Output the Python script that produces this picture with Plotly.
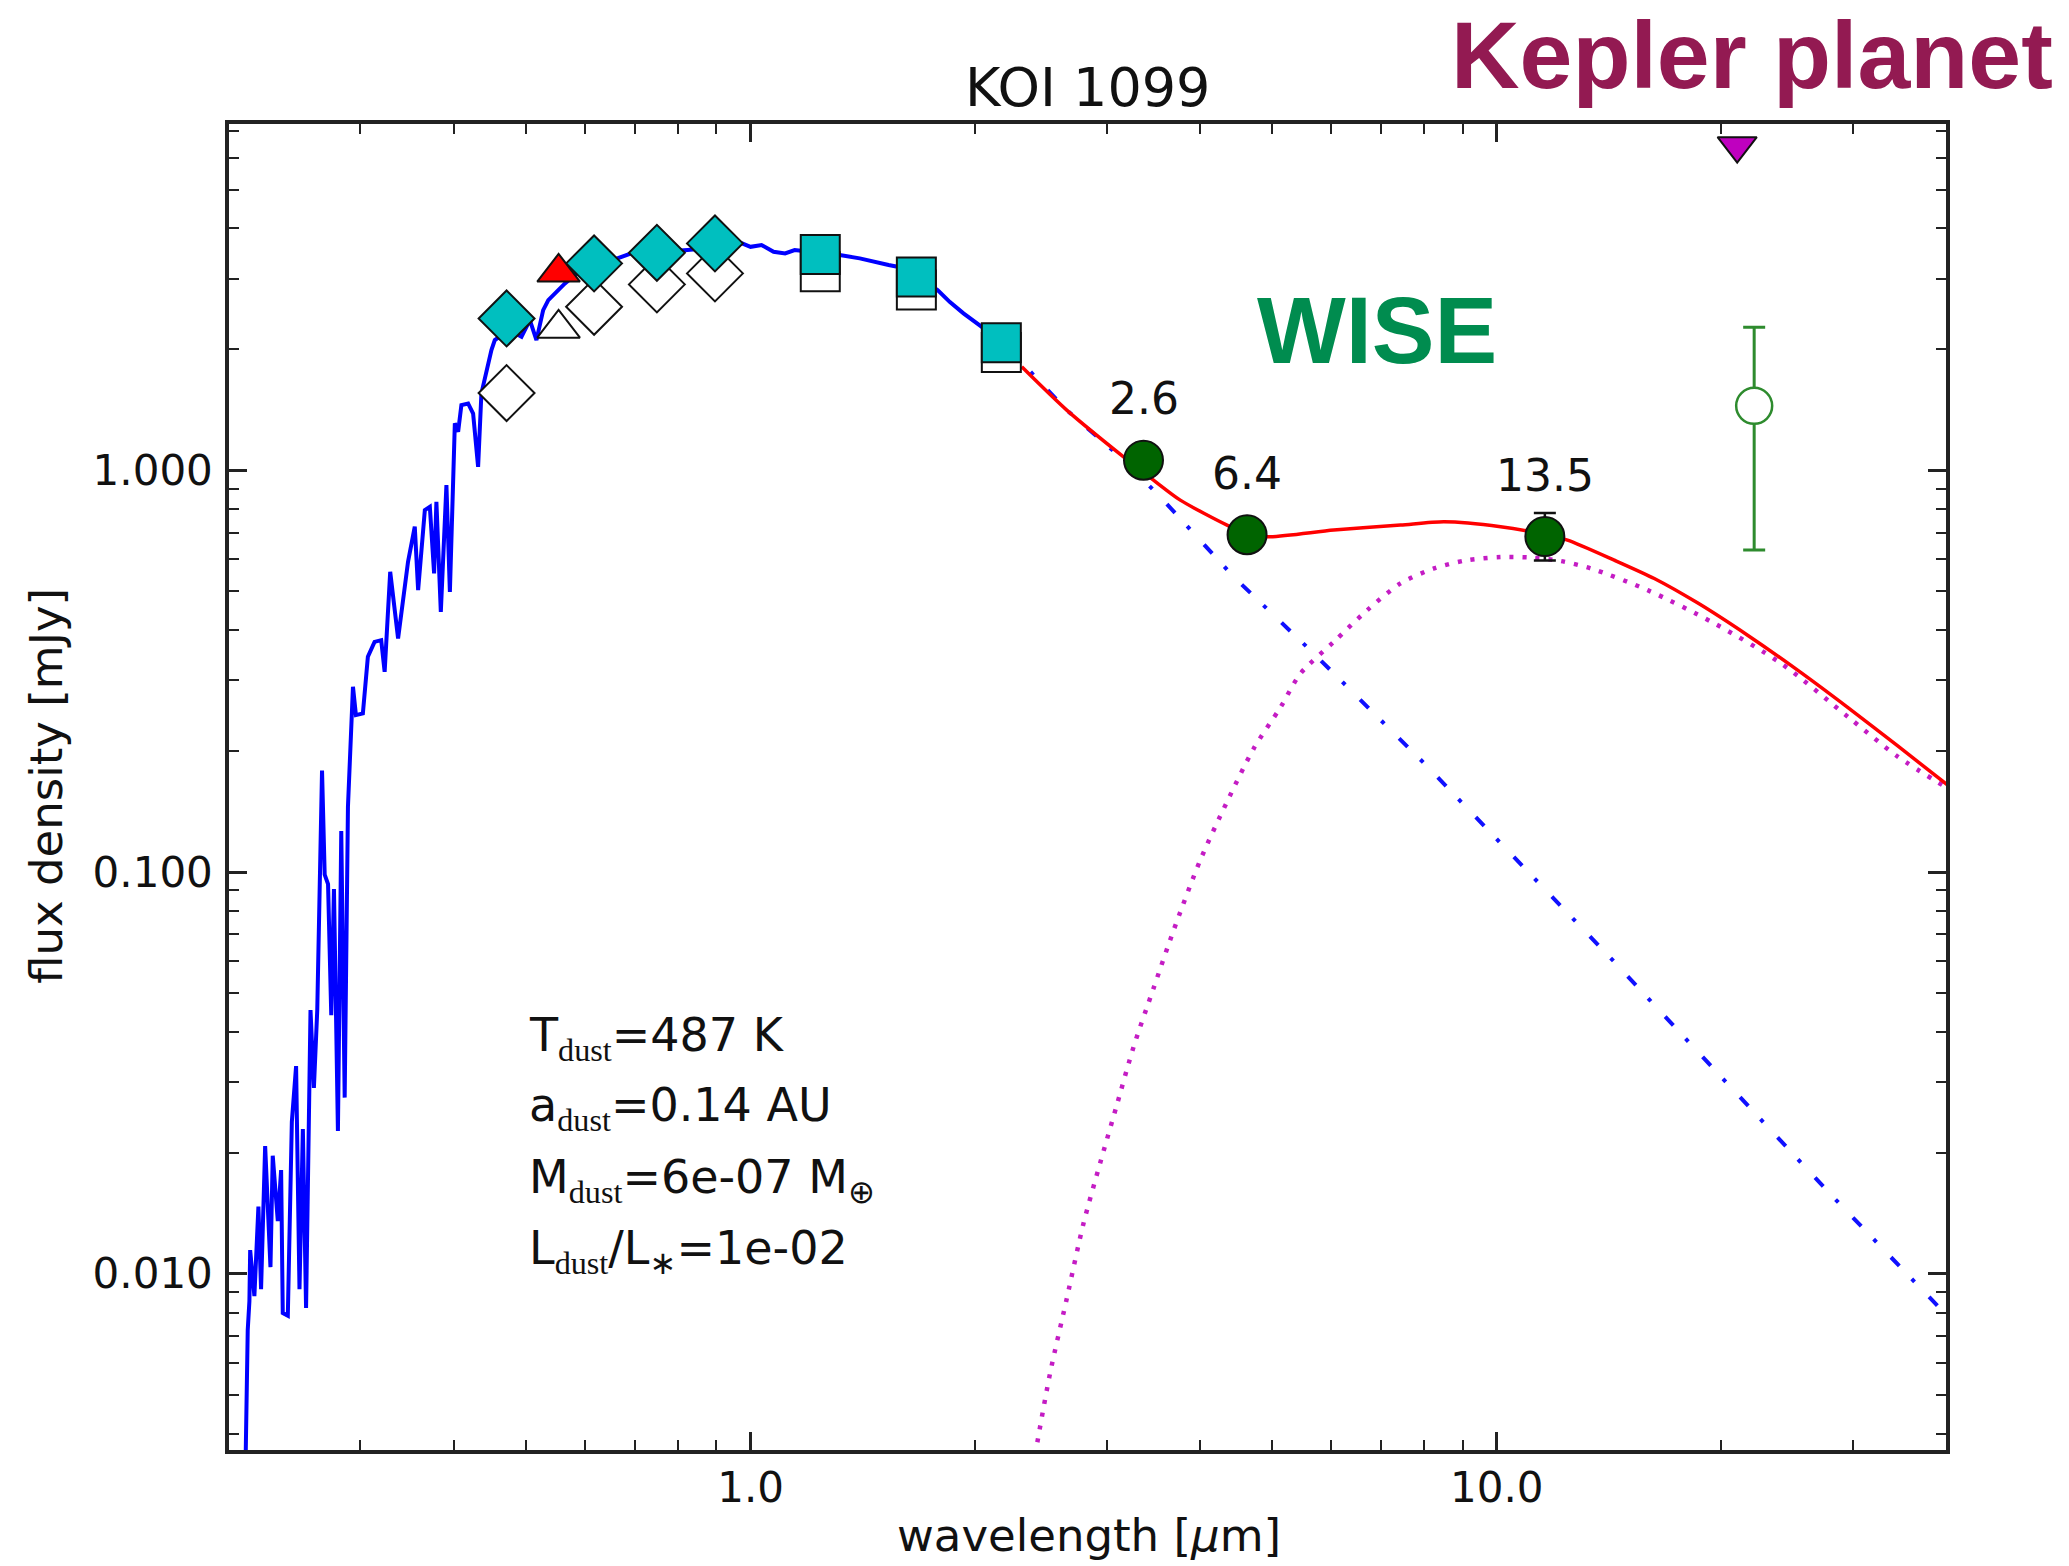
import math
import plotly.graph_objects as go

# ---- stellar spectrum (wavelength in micron, flux density in mJy) ----
spec_wl = [
    0.2105, 0.2119, 0.2130, 0.2135, 0.2163, 0.2190, 0.2208, 0.2236, 0.2273, 0.2289,
    0.2325, 0.2349, 0.2361, 0.2398, 0.2428, 0.2460, 0.2486, 0.2512, 0.2537, 0.2572,
    0.2599, 0.2626, 0.2665, 0.2687, 0.2715, 0.2742, 0.2765, 0.2799, 0.2828, 0.2858,
    0.2887, 0.2923, 0.2932, 0.2959, 0.3023, 0.3070, 0.3134, 0.3199, 0.3233, 0.3289,
    0.3370, 0.3475, 0.3548, 0.3585, 0.3660, 0.3717, 0.3766, 0.3793, 0.3845, 0.3912,
    0.3954, 0.4015, 0.4056, 0.4097, 0.4183, 0.4248, 0.4314, 0.4358, 0.4495, 0.4542,
    0.4748, 0.4932, 0.5061, 0.5165, 0.5273, 0.5357, 0.5524, 0.5640, 0.5874, 0.6079,
    0.6271, 0.6535, 0.7016, 0.7549, 0.8231, 0.9087, 0.9741, 1.0000, 1.0346, 1.0736,
    1.1125, 1.1458, 1.3166, 1.4007, 1.5310, 1.5730, 1.6350, 1.7810, 1.8500, 1.9290,
    2.0410, 2.2270,
]
spec_flux = [
    0.0034, 0.007238, 0.008545, 0.01145, 0.008794, 0.01469, 0.009155, 0.02078, 0.01038, 0.01966,
    0.01352, 0.01811, 0.00798, 0.007861, 0.02388, 0.03287, 0.009155, 0.02291, 0.008211, 0.04532,
    0.02901, 0.04532, 0.1790, 0.09852, 0.09330, 0.04403, 0.09066, 0.02265, 0.1265, 0.02744,
    0.1454, 0.2465, 0.2891, 0.2458, 0.2482, 0.3434, 0.3741, 0.3777, 0.3150, 0.5590,
    0.3815, 0.5919, 0.7237, 0.5031, 0.7961, 0.8114, 0.5539, 0.8347, 0.4444, 0.9187,
    0.4982, 1.309, 1.247, 1.453, 1.467, 1.385, 1.020, 1.554, 1.992, 2.109,
    2.234, 2.149, 2.365, 2.109, 2.505, 2.653, 2.810, 2.920, 3.114, 3.187,
    3.150, 3.338, 3.500, 3.494, 3.534, 3.594, 3.672, 3.600, 3.636, 3.500,
    3.467, 3.534, 3.434, 3.370, 3.243, 3.212, 3.114, 2.810, 2.623, 2.459,
    2.276, 1.992,
]

# ---- photosphere extrapolation into the infrared ----
rj_wl = [2.227, 2.653, 3.129, 3.540, 4.440, 5.685, 7.989, 10.12, 14.30, 19.98, 28.08, 40.18]
rj_flux = [1.992, 1.412, 1.080, 0.8592, 0.5430, 0.3500, 0.1867, 0.1180, 0.06034, 0.03092, 0.01569, 0.007843]

# ---- warm dust blackbody ----
dust_wl = [2.406, 2.519, 2.653, 2.793, 2.941, 3.097, 3.261, 3.467, 3.689, 4.006,
           4.350, 4.724, 5.130, 5.458, 6.047, 6.706, 7.431, 8.236, 9.135, 10.12,
           11.11, 12.19, 13.37, 15.93, 19.57, 24.05, 29.56, 34.50, 40.18]
dust_flux = [0.003535, 0.005631, 0.008664, 0.01332, 0.01885, 0.02633, 0.03673, 0.05129, 0.07155, 0.1071,
             0.1495, 0.2029, 0.2569, 0.3121, 0.3741, 0.4487, 0.5230, 0.5697, 0.5976, 0.6081,
             0.6064, 0.5943, 0.5697, 0.5031, 0.4158, 0.3306, 0.2434, 0.1935, 0.1618]

# ---- star + dust total ----
tot_wl = [2.309, 2.653, 3.161, 3.467, 3.766, 4.350, 4.628, 4.922, 6.047, 7.431, 8.497,
          10.12, 11.60, 12.44, 14.37, 16.26, 18.60, 21.71, 25.33, 29.56, 34.50, 40.18]
tot_flux = [1.810, 1.412, 1.080, 0.9454, 0.8429, 0.7305, 0.6963, 0.6829, 0.7099, 0.7305, 0.7444,
            0.7237, 0.6925, 0.6703, 0.5976, 0.5379, 0.4671, 0.3880, 0.3176, 0.2566, 0.2057, 0.1647]

# ---- photometry ----
opt_wl = [0.471, 0.617, 0.749, 0.896]
opt_model = [2.388, 3.274, 3.478, 3.672]
opt_obs = [1.557, 2.553, 2.903, 3.092]

kep_wl = [0.553]
kep_model = [3.110]
kep_obs = [2.256]

nir_wl = [1.240, 1.668, 2.168]
nir_model = [3.448, 3.027, 2.077]
nir_obs = [3.121, 2.810, 1.966]

wise_wl = [3.362, 4.628, 11.60]
wise_flux = [1.060, 0.691, 0.684]
wise_err_hi = [0.0, 0.0, 0.099]
wise_err_lo = [0.0, 0.0, 0.088]
wise_labels = ["2.6", "6.4", "13.5"]

w4_wl = [22.13]
w4_flux = [1.447]
w4_err_hi = [0.823]
w4_err_lo = [0.814]

limit_wl = [21.0]
limit_flux = [6.43]

x_major = [1, 10]
x_major_text = ["1.0", "10.0"]
x_minor = [0.3, 0.4, 0.5, 0.6, 0.7, 0.8, 0.9, 2, 3, 4, 5, 6, 7, 8, 9, 20, 30]
y_major = [0.01, 0.1, 1]
y_major_text = ["0.010", "0.100", "1.000"]
y_minor = [0.004, 0.005, 0.006, 0.007, 0.008, 0.009,
           0.02, 0.03, 0.04, 0.05, 0.06, 0.07, 0.08, 0.09,
           0.2, 0.3, 0.4, 0.5, 0.6, 0.7, 0.8, 0.9,
           2, 3, 4, 5, 6, 7]

EDGE = "#111111"
CYAN = "#00bfbf"

fig = go.Figure()

# model curves
fig.add_trace(go.Scatter(x=dust_wl, y=dust_flux, mode="lines",
                         line=dict(color="#c41cc4", width=4.5, dash="4px,9px",
                                   shape="spline", smoothing=0.8)))
fig.add_trace(go.Scatter(x=rj_wl, y=rj_flux, mode="lines",
                         line=dict(color="#1010ff", width=4, dash="12px,18px,4px,21px")))
fig.add_trace(go.Scatter(x=spec_wl, y=spec_flux, mode="lines",
                         line=dict(color="#0000ff", width=4)))
fig.add_trace(go.Scatter(x=tot_wl, y=tot_flux, mode="lines",
                         line=dict(color="#ff0000", width=3.5, shape="spline", smoothing=0.7)))

# observed photometry (open symbols)
fig.add_trace(go.Scatter(x=opt_wl, y=opt_obs, mode="markers",
                         marker=dict(symbol="diamond", size=43, color="white",
                                     line=dict(color=EDGE, width=2))))
fig.add_trace(go.Scatter(x=kep_wl, y=kep_obs, mode="markers",
                         marker=dict(symbol="triangle-up", size=37, color="white",
                                     line=dict(color=EDGE, width=2))))
fig.add_trace(go.Scatter(x=nir_wl, y=nir_obs, mode="markers",
                         marker=dict(symbol="square", size=39, color="white",
                                     line=dict(color=EDGE, width=2))))

# synthetic photometry (filled symbols)
fig.add_trace(go.Scatter(x=opt_wl, y=opt_model, mode="markers",
                         marker=dict(symbol="diamond", size=43, color=CYAN,
                                     line=dict(color=EDGE, width=2))))
fig.add_trace(go.Scatter(x=kep_wl, y=kep_model, mode="markers",
                         marker=dict(symbol="triangle-up", size=37, color="#ff0000",
                                     line=dict(color=EDGE, width=2))))
fig.add_trace(go.Scatter(x=nir_wl, y=nir_model, mode="markers",
                         marker=dict(symbol="square", size=39, color=CYAN,
                                     line=dict(color=EDGE, width=2))))

# WISE detections
fig.add_trace(go.Scatter(x=wise_wl, y=wise_flux, mode="markers",
                         error_y=dict(type="data", symmetric=False, array=wise_err_hi,
                                      arrayminus=wise_err_lo, color=EDGE, thickness=2.5, width=11),
                         marker=dict(symbol="circle", size=39, color="#006400",
                                     line=dict(color=EDGE, width=2))))
fig.add_trace(go.Scatter(x=w4_wl, y=w4_flux, mode="markers",
                         error_y=dict(type="data", symmetric=False, array=w4_err_hi,
                                      arrayminus=w4_err_lo, color="#2e8b2e", thickness=3, width=11),
                         marker=dict(symbol="circle", size=36, color="white",
                                     line=dict(color="#2e8b2e", width=2.5))))

# upper limit
fig.add_trace(go.Scatter(x=limit_wl, y=limit_flux, mode="markers",
                         marker=dict(symbol="triangle-down", size=34, color="#bf00bf",
                                     line=dict(color=EDGE, width=2))))

axis_common = dict(
    type="log", showgrid=False, zeroline=False, showline=True,
    linecolor="#222222", linewidth=3.5, mirror="allticks",
    ticks="inside", ticklen=18, tickwidth=2.5, tickcolor="#222222",
    tickfont=dict(family="DejaVu Sans", size=42, color="#111111"),
    tickmode="array",
)
fig.update_xaxes(**axis_common, range=[math.log10(0.2), math.log10(40)],
                 tickvals=x_major, ticktext=x_major_text, ticklabelstandoff=-2,
                 minor=dict(ticks="inside", ticklen=10, tickwidth=2, tickcolor="#222222",
                            tickmode="array", tickvals=x_minor))
fig.update_yaxes(**axis_common, range=[math.log10(0.00364), math.log10(7.28)],
                 tickvals=y_major, ticktext=y_major_text, ticklabelstandoff=4,
                 minor=dict(ticks="inside", ticklen=10, tickwidth=2, tickcolor="#222222",
                            tickmode="array", tickvals=y_minor))


def sub(s):
    return f"<sub><span style='font-family:Liberation Serif'>{s}</span></sub>"


annotations = []
# WISE signal-to-noise labels above each point
for wl, fl, lab in zip(wise_wl, wise_flux, wise_labels):
    annotations.append(dict(x=math.log10(wl), y=math.log10(fl), xref="x", yref="y",
                            text=lab, showarrow=False, yanchor="bottom", yshift=35,
                            borderpad=0,
                            font=dict(family="DejaVu Sans", size=44, color="#111111")))

# dust fit parameters
param_lines = [
    f"T{sub('dust')}=487 K",
    f"a{sub('dust')}=0.14 AU",
    f"M{sub('dust')}=6e-07 M<sub>⊕</sub>",
    f"L{sub('dust')}/L<sub>∗</sub>=1e-02",
]
param_y = [0.3339, 0.2811, 0.2270, 0.1732]
for txt, yy in zip(param_lines, param_y):
    annotations.append(dict(x=0.1741, y=yy, xref="paper", yref="paper", text=txt,
                            showarrow=False, xanchor="left", yanchor="top", borderpad=0,
                            font=dict(family="DejaVu Sans", size=46, color="#111111")))

annotations += [
    dict(x=0.5, y=1.0521, xref="paper", yref="paper", text="KOI 1099", showarrow=False,
         xanchor="center", yanchor="top", borderpad=0,
         font=dict(family="DejaVu Sans", size=54, color="#111111")),
    dict(x=0.7111, y=1.0928, xref="paper", yref="paper", text="<b>Kepler planet</b>",
         showarrow=False, xanchor="left", yanchor="top", borderpad=0,
         font=dict(family="Liberation Sans", size=95, color="#931a52")),
    dict(x=0.5979, y=0.8849, xref="paper", yref="paper", text="<b>WISE</b>",
         showarrow=False, xanchor="left", yanchor="top", borderpad=0,
         font=dict(family="Liberation Sans", size=94, color="#008c4f")),
    dict(x=-0.106, y=0.5009, xref="paper", yref="paper", text="flux density [mJy]",
         showarrow=False, textangle=-90, xanchor="center", yanchor="middle", borderpad=0,
         font=dict(family="DejaVu Sans", size=45, color="#111111")),
    dict(x=0.5009, y=-0.0437, xref="paper", yref="paper", text="wavelength [<i>μ</i>m]",
         showarrow=False, xanchor="center", yanchor="top", borderpad=0,
         font=dict(family="DejaVu Sans", size=45, color="#111111")),
]

fig.update_layout(
    width=2069, height=1566, autosize=False,
    margin=dict(l=229, r=123, t=124, b=116),
    paper_bgcolor="white", plot_bgcolor="white",
    showlegend=False,
    font=dict(family="DejaVu Sans", color="#111111"),
    annotations=annotations,
)

fig.write_html("out.html")
